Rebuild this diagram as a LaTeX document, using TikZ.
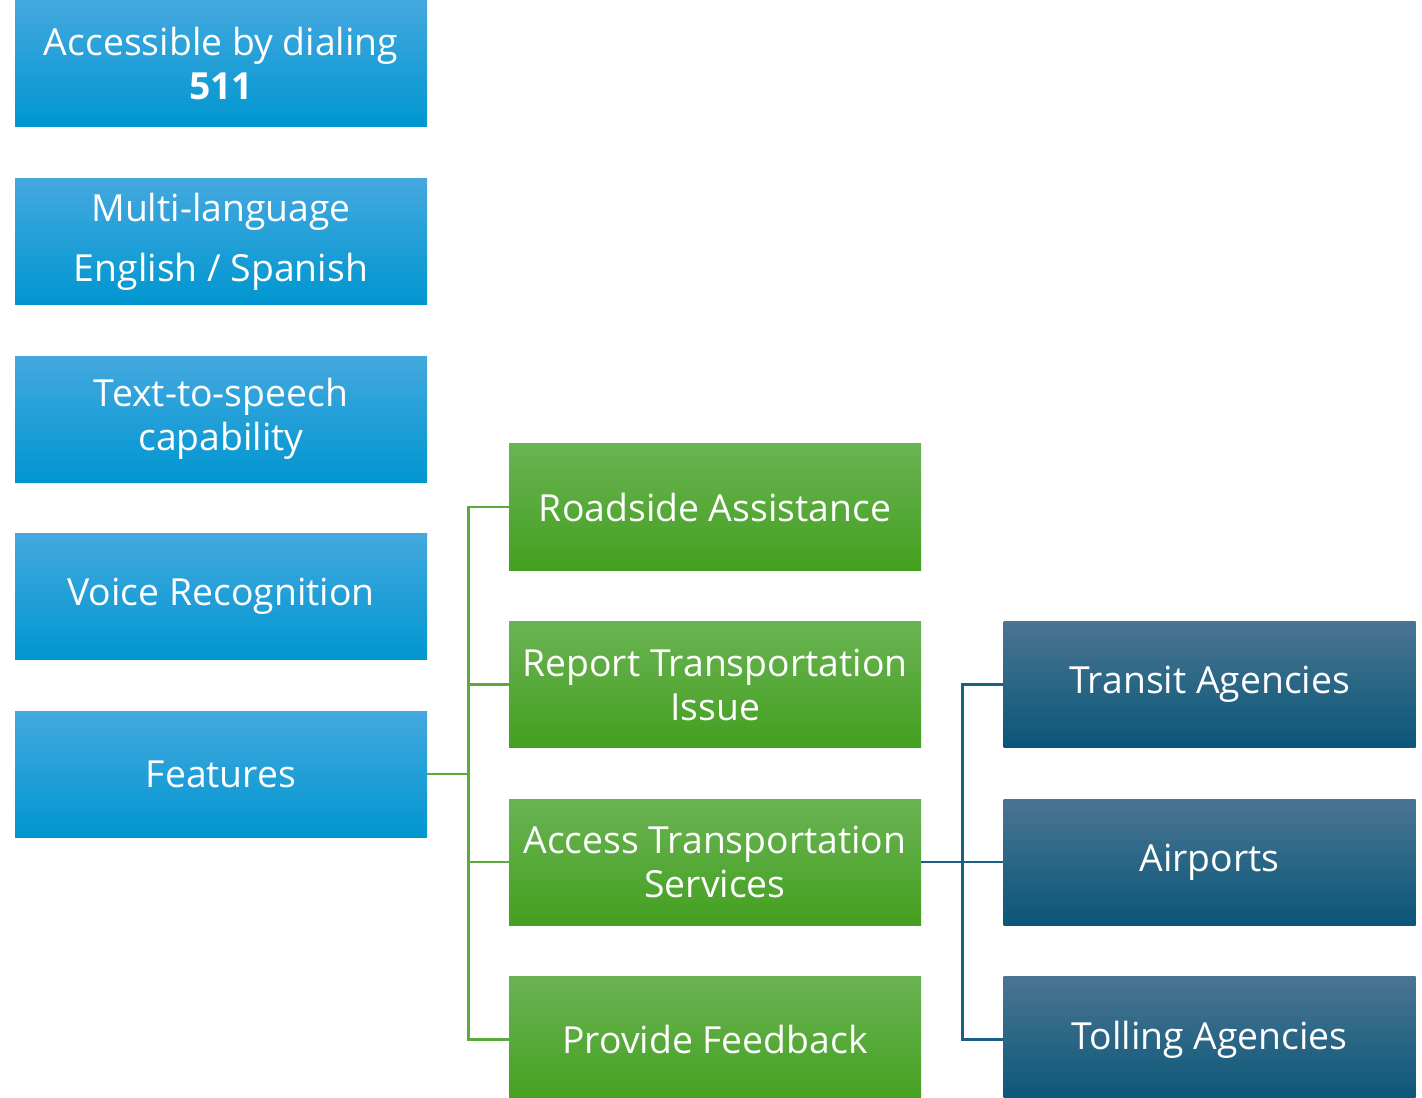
\documentclass[tikz,border=0pt]{standalone}
\usepackage{fontspec}
\setmainfont{Open Sans}
\usetikzlibrary{positioning}
\definecolor{bluetop}{HTML}{44A8DF}
\definecolor{bluemid}{HTML}{0AA2E0}
\definecolor{bluebot}{HTML}{0096D0}
\definecolor{greentop}{HTML}{6AB353}
\definecolor{greenmid}{HTML}{50AB2E}
\definecolor{greenbot}{HTML}{44A020}
\definecolor{navytop}{HTML}{4A7592}
\definecolor{navymid}{HTML}{12628A}
\definecolor{navybot}{HTML}{0A5678}
\definecolor{greenline}{HTML}{5AAB3A}
\definecolor{navyline}{HTML}{1A5F85}

\begin{document}
\begin{tikzpicture}[x=0.75pt,y=-0.75pt,
		box/.style={minimum width=309pt,minimum height=94.5pt,inner sep=0pt,text=white,align=center,
			font=\fontsize{28}{33}\selectfont},
		featbox/.style={box,top color=bluetop,middle color=bluemid,bottom color=bluebot},
		taskbox/.style={box,top color=greentop,middle color=greenmid,bottom color=greenbot},
		partbox/.style={box,top color=navytop,middle color=navymid,bottom color=navybot},
		node distance=38.25pt and 61.5pt]
		\useasboundingbox (0,0) rectangle (1422,1098);
		\node[featbox] (dial) at (221,64) {Accessible by dialing\\\textbf{511}};
		\node[featbox,below=of dial] (lang) {Multi-language\\[12pt]English / Spanish};
		\node[featbox,below=of lang] (tts) {Text-to-speech\\capability};
		\node[featbox,below=of tts] (voice) {Voice Recognition};
		\node[featbox,below=of voice] (feat) {Features};
		\node[taskbox] (road) at (715,507) {Roadside Assistance};
		\node[taskbox,below=of road] (report) {Report Transportation\\Issue};
		\node[taskbox,below=of report] (access) {Access Transportation\\Services};
		\node[taskbox,below=of access] (feedback) {Provide Feedback};
		\node[partbox,right=of report] (transit) {Transit Agencies};
		\node[partbox,below=of transit] (airport) {Airports};
		\node[partbox,below=of airport] (toll) {Tolling Agencies};
		\draw[greenline,line width=2pt] (feat.east) -- ++(41,0) coordinate (fork);
		\foreach \t in {road,report,access,feedback}
			\draw[greenline,line width=2pt] (fork) |- (\t.west);
		\draw[navyline,line width=2pt] (access.east) -- ++(41,0) coordinate (split);
		\foreach \t in {transit,airport,toll}
			\draw[navyline,line width=2pt] (split) |- (\t.west);
	\end{tikzpicture}
\end{document}
